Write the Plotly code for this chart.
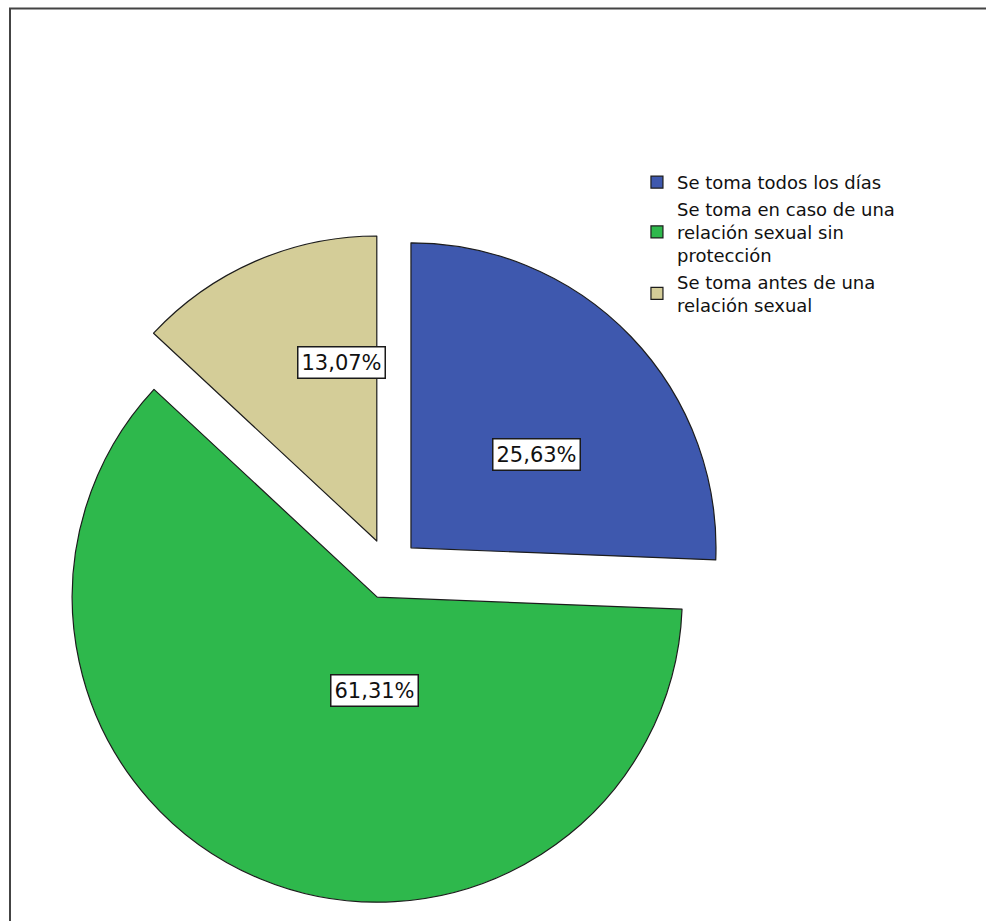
import plotly.graph_objects as go

# Categories and their shares (percent)
categories = [
    "Se toma todos los días",
    "Se toma en caso de una<br>relación sexual sin<br>protección",
    "Se toma antes de una<br>relación sexual",
]
percentages = [25.63, 61.31, 13.07]
slice_colors = ["#3E58AE", "#2EB84C", "#D4CD98"]

W, H = 986, 921
FONT = "DejaVu Sans, Liberation Sans, Arial, sans-serif"

fig = go.Figure()

fig.add_trace(go.Pie(
    labels=categories,
    values=percentages,
    sort=False,
    direction="clockwise",
    rotation=0,
    pull=[0.1, 0.1, 0.1],
    marker=dict(colors=slice_colors, line=dict(color="#1c1c1c", width=1.2)),
    textinfo="none",
    hoverinfo="label+percent",
    domain=dict(x=[0.048, 0.741], y=[0.0179, 0.7465]),
))

# Boxed percentage labels placed inside each slice
label_pos = [(0.5446, 0.506), (0.380, 0.232), (0.301, 0.606)]
for v, (lx, ly) in zip(percentages, label_pos):
    fig.add_annotation(
        x=lx, y=ly, xref="paper", yref="paper",
        text=f"{v:.2f}".replace(".", ",") + "%",
        showarrow=False,
        font=dict(family=FONT, size=21, color="#111111"),
        bgcolor="white", bordercolor="#1a1a1a", borderwidth=1.5, borderpad=3,
    )

# Outer frame (top and left edges visible)
fig.add_shape(
    type="rect", xref="paper", yref="paper",
    x0=10 / W, x1=1.02, y0=-0.02, y1=1 - 8.5 / H,
    line=dict(color="#444444", width=2),
    fillcolor="rgba(0,0,0,0)", layer="below",
)

fig.update_layout(
    width=W, height=H,
    margin=dict(l=0, r=0, t=0, b=0),
    paper_bgcolor="white",
    plot_bgcolor="white",
    showlegend=True,
    legend=dict(
        x=0.646, y=0.822, xanchor="left", yanchor="top",
        font=dict(family=FONT, size=18, color="#111111"),
        bgcolor="rgba(0,0,0,0)",
        tracegroupgap=0,
        itemwidth=30,
    ),
)

fig.write_html("out.html")
